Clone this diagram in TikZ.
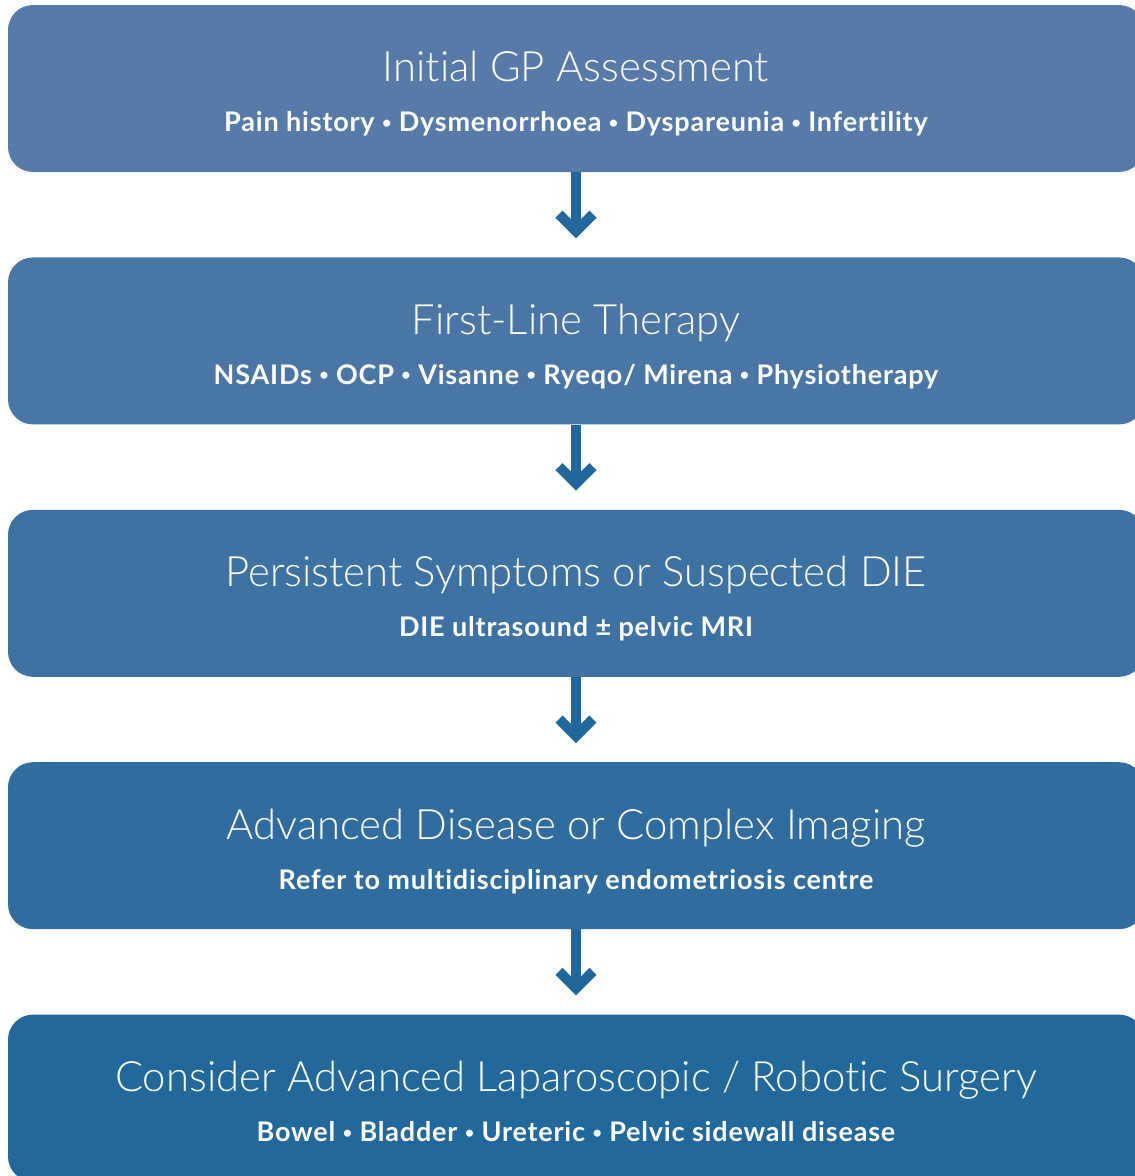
\documentclass[tikz,border=0pt]{standalone}
\usepackage{fontspec}
\setmainfont[RawFeature=-liga,LetterSpace=3]{Lato}
\newfontfamily\lightfont[RawFeature=-liga]{Lato Light}
\usetikzlibrary{positioning,calc}

\definecolor{stageone}{RGB}{87,123,168}
\definecolor{stagetwo}{RGB}{74,118,165}
\definecolor{stagethree}{RGB}{61,114,162}
\definecolor{stagefour}{RGB}{48,109,158}
\definecolor{stagefive}{RGB}{35,104,155}
\definecolor{flowblue}{RGB}{34,103,155}

\newcommand{\stagedot}{\raisebox{0.12em}{\scalebox{0.6}{•}}}

\tikzset{
  stagebox/.style={rounded corners=25pt,minimum width=1136pt,minimum height=167pt,inner sep=0pt},
  stagetitle/.style={text=white,anchor=base,font=\lightfont\fontsize{41.8}{42}\selectfont},
  stagenote/.style={text=white,anchor=base,font=\bfseries\fontsize{27}{27}\selectfont},
  flowline/.style={draw=flowblue,line width=10pt},
  flowhead/.style={draw=flowblue,line width=10pt,line join=miter}
}

\begin{document}
\begin{tikzpicture}[x=1pt,y=-1pt]
  \useasboundingbox (0,0) rectangle (1135,1176);
  \clip (0,0) rectangle (1135,1176);
  % stages
  \node[stagebox,fill=stageone](gp)at(576,88.5){};
  \node[stagebox,fill=stagetwo,below=85pt of gp](first){};
  \node[stagebox,fill=stagethree,below=85pt of first](persist){};
  \node[stagebox,fill=stagefour,below=85pt of persist](advanced){};
  \node[stagebox,fill=stagefive,below=85pt of advanced](surgery){};
  % texts
  \node[stagetitle](gpt)at($(gp.north)+(0,77)$){Initial GP Assessment};
  \node[stagenote](gpn)at($(gp.north)+(0,127)$){Pain history \stagedot{} Dysmenorrhoea \stagedot{} Dyspareunia \stagedot{} Infertility};
  \node[stagetitle](firstt)at($(first.north)+(0,77)$){First-Line Therapy};
  \node[stagenote](firstn)at($(first.north)+(0,127)$){NSAIDs \stagedot{} OCP \stagedot{} Visanne \stagedot{} Ryeqo/ Mirena \stagedot{} Physiotherapy};
  \node[stagetitle](persistt)at($(persist.north)+(0,77)$){Persistent Symptoms or Suspected DIE};
  \node[stagenote](persistn)at($(persist.north)+(0,127)$){DIE ultrasound ± pelvic MRI};
  \node[stagetitle](advancedt)at($(advanced.north)+(0,77)$){Advanced Disease or Complex Imaging};
  \node[stagenote](advancedn)at($(advanced.north)+(0,127)$){Refer to multidisciplinary endometriosis centre};
  \node[stagetitle](surgeryt)at($(surgery.north)+(0,77)$){Consider Advanced Laparoscopic / Robotic Surgery};
  \node[stagenote](surgeryn)at($(surgery.north)+(0,127)$){Bowel \stagedot{} Bladder \stagedot{} Ureteric \stagedot{} Pelvic sidewall disease};
  % arrows
  \coordinate(t1)at($(gp.south)+(0,59)$);
  \draw[flowline](gp.south)--(t1);
  \draw[flowhead]($(t1)+(-17,-17)$)--(t1)--($(t1)+(17,-17)$);
  \coordinate(t2)at($(first.south)+(0,59)$);
  \draw[flowline](first.south)--(t2);
  \draw[flowhead]($(t2)+(-17,-17)$)--(t2)--($(t2)+(17,-17)$);
  \coordinate(t3)at($(persist.south)+(0,59)$);
  \draw[flowline](persist.south)--(t3);
  \draw[flowhead]($(t3)+(-17,-17)$)--(t3)--($(t3)+(17,-17)$);
  \coordinate(t4)at($(advanced.south)+(0,59)$);
  \draw[flowline](advanced.south)--(t4);
  \draw[flowhead]($(t4)+(-17,-17)$)--(t4)--($(t4)+(17,-17)$);
\end{tikzpicture}
\end{document}
